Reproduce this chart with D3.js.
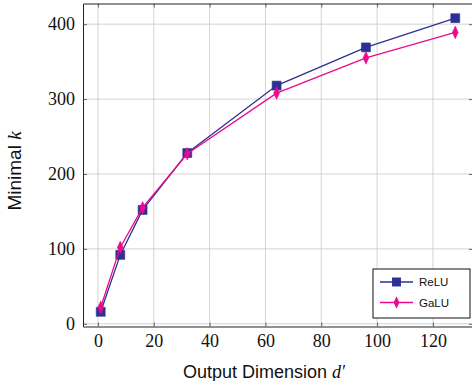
<!DOCTYPE html>
<html>
<head>
<meta charset="utf-8">
<script src="https://cdn.jsdelivr.net/npm/d3@7"></script>
<style>
  body { margin: 0; background: #fff; }
  svg { display: block; }
</style>
</head>
<body>
<svg id="chart" width="472" height="381"></svg>
<script>
// data
const dims = [1, 8, 16, 32, 64, 96, 128];
const reluK = [16, 92, 152, 228, 318, 369, 408];
const galuK = [22, 102, 155, 227, 308, 355, 389];
const xTicks = [0, 20, 40, 60, 80, 100, 120];
const yTicks = [0, 100, 200, 300, 400];

const width = 472, height = 381;
const margin = {top: 3.5, right: -1, bottom: 54.5, left: 83};
const svg = d3.select("#chart");

const x = d3.scaleLinear().domain([-5.35, 134.35]).range([margin.left, width - margin.right]);
const y = d3.scaleLinear().domain([-3.6, 427.6]).range([height - margin.bottom, margin.top]);

const serif = "'Liberation Serif', 'DejaVu Serif', serif";
const sans = "'Liberation Sans', Arial, sans-serif";

// grid
svg.append("g")
  .selectAll("line.vg")
  .data(xTicks)
  .join("line")
  .attr("x1", d => x(d)).attr("x2", d => x(d))
  .attr("y1", y.range()[0]).attr("y2", y.range()[1])
  .attr("stroke", "#c8c8c8").attr("stroke-width", 0.8);
svg.append("g")
  .selectAll("line.hg")
  .data(yTicks)
  .join("line")
  .attr("x1", x.range()[0]).attr("x2", x.range()[1])
  .attr("y1", d => y(d)).attr("y2", d => y(d))
  .attr("stroke", "#c8c8c8").attr("stroke-width", 0.8);

// axes (ticks pointing inward, pgfplots style)
svg.append("g").attr("transform", `translate(0,${y.range()[0]})`)
  .call(d3.axisBottom(x).tickValues(xTicks).tickSizeInner(-4).tickSizeOuter(0).tickPadding(8));
svg.append("g").attr("transform", `translate(${x.range()[0]},0)`)
  .call(d3.axisLeft(y).tickValues(yTicks).tickSizeInner(-4).tickSizeOuter(0).tickPadding(8));
svg.append("g").attr("transform", `translate(0,${y.range()[1]})`)
  .call(d3.axisTop(x).tickValues(xTicks).tickSizeInner(-4).tickSizeOuter(0).tickFormat(""));
svg.append("g").attr("transform", `translate(${x.range()[1]},0)`)
  .call(d3.axisRight(y).tickValues(yTicks).tickSizeInner(-4).tickSizeOuter(0).tickFormat(""));

svg.selectAll(".domain").attr("stroke", "#222").attr("stroke-width", 1);
svg.selectAll(".tick line").attr("stroke", "#444").attr("stroke-width", 0.8);
svg.selectAll(".tick text").attr("font-family", serif).attr("font-size", 18).attr("fill", "#111");

// axis labels
svg.append("text")
  .attr("x", 264).attr("y", 378)
  .attr("text-anchor", "middle")
  .attr("font-family", sans).attr("font-size", 18).attr("fill", "#111")
  .text("Output Dimension ")
  .append("tspan").attr("font-family", serif).attr("font-style", "italic").text("d′");

svg.append("text")
  .attr("transform", `translate(21,171) rotate(-90)`)
  .attr("text-anchor", "middle")
  .attr("font-family", sans).attr("font-size", 19).attr("fill", "#111")
  .text("Minimal ")
  .append("tspan").attr("font-family", serif).attr("font-style", "italic").text("k");

// series
const series = [
  {name: "ReLU", values: reluK, color: "#2e3192", symbol: d3.symbolSquare, size: 80, sx: 1},
  {name: "GaLU", values: galuK, color: "#ec0a8c", symbol: d3.symbolDiamond, size: 46, sx: 0.8}
];

const line = d3.line().x((d, i) => x(dims[i])).y(d => y(d));

series.forEach(s => {
  svg.append("path")
    .datum(s.values)
    .attr("fill", "none")
    .attr("stroke", s.color)
    .attr("stroke-width", 1.3)
    .attr("d", line);
  svg.append("g")
    .selectAll("path")
    .data(s.values)
    .join("path")
    .attr("transform", (d, i) => `translate(${x(dims[i])},${y(d)}) scale(${s.sx},1)`)
    .attr("d", d3.symbol().type(s.symbol).size(s.size))
    .attr("fill", s.color)
    .attr("stroke", s.color).attr("stroke-width", 0.6);
});

// legend
const lg = svg.append("g").attr("transform", "translate(373,269)");
lg.append("rect").attr("width", 97).attr("height", 49)
  .attr("fill", "#fff").attr("stroke", "#111").attr("stroke-width", 1);
series.forEach((s, i) => {
  const yy = 13 + i * 20.5;
  lg.append("line").attr("x1", 7).attr("x2", 40).attr("y1", yy).attr("y2", yy)
    .attr("stroke", s.color).attr("stroke-width", 1.3);
  lg.append("path")
    .attr("transform", `translate(23.5,${yy}) scale(${s.sx},1)`)
    .attr("d", d3.symbol().type(s.symbol).size(s.size))
    .attr("fill", s.color);
  lg.append("text").attr("x", 46).attr("y", yy + 4)
    .attr("font-family", sans).attr("font-size", 11.5).attr("fill", "#111")
    .text(s.name);
});
</script>
</body>
</html>
